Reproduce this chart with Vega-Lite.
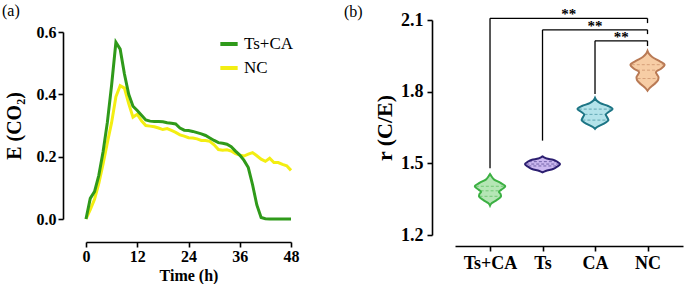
{
  "$schema": "https://vega.github.io/schema/vega-lite/v6.json",
  "autosize": {"type": "pad"},
  "padding": {"left": 2, "top": 3, "right": 2, "bottom": 1},
  "background": "white",
  "datasets": {
    "co2": [
      {"group": "NC", "t": 0, "v": 0}, {"group": "NC", "t": 1, "v": 0.03}, {"group": "NC", "t": 2, "v": 0.063},
      {"group": "NC", "t": 3, "v": 0.114}, {"group": "NC", "t": 4, "v": 0.177}, {"group": "NC", "t": 5, "v": 0.245},
      {"group": "NC", "t": 6, "v": 0.31}, {"group": "NC", "t": 7, "v": 0.392}, {"group": "NC", "t": 8, "v": 0.428},
      {"group": "NC", "t": 9, "v": 0.42}, {"group": "NC", "t": 10, "v": 0.37}, {"group": "NC", "t": 11, "v": 0.327},
      {"group": "NC", "t": 12, "v": 0.336}, {"group": "NC", "t": 13, "v": 0.315}, {"group": "NC", "t": 14, "v": 0.3},
      {"group": "NC", "t": 15, "v": 0.298}, {"group": "NC", "t": 16, "v": 0.296}, {"group": "NC", "t": 17, "v": 0.292},
      {"group": "NC", "t": 18, "v": 0.287}, {"group": "NC", "t": 19, "v": 0.29}, {"group": "NC", "t": 20, "v": 0.284},
      {"group": "NC", "t": 21, "v": 0.278}, {"group": "NC", "t": 22, "v": 0.27}, {"group": "NC", "t": 23, "v": 0.266},
      {"group": "NC", "t": 24, "v": 0.261}, {"group": "NC", "t": 25, "v": 0.26}, {"group": "NC", "t": 26, "v": 0.257},
      {"group": "NC", "t": 27, "v": 0.252}, {"group": "NC", "t": 28, "v": 0.252}, {"group": "NC", "t": 29, "v": 0.249},
      {"group": "NC", "t": 30, "v": 0.238}, {"group": "NC", "t": 31, "v": 0.223}, {"group": "NC", "t": 32, "v": 0.221},
      {"group": "NC", "t": 33, "v": 0.222}, {"group": "NC", "t": 34, "v": 0.218}, {"group": "NC", "t": 35, "v": 0.21},
      {"group": "NC", "t": 36, "v": 0.205}, {"group": "NC", "t": 37, "v": 0.202}, {"group": "NC", "t": 38, "v": 0.208},
      {"group": "NC", "t": 39, "v": 0.213}, {"group": "NC", "t": 40, "v": 0.203}, {"group": "NC", "t": 41, "v": 0.192},
      {"group": "NC", "t": 42, "v": 0.185}, {"group": "NC", "t": 43, "v": 0.195}, {"group": "NC", "t": 44, "v": 0.181},
      {"group": "NC", "t": 45, "v": 0.181}, {"group": "NC", "t": 46, "v": 0.175}, {"group": "NC", "t": 47, "v": 0.171},
      {"group": "NC", "t": 48, "v": 0.156},
      {"group": "Ts+CA", "t": 0, "v": 0}, {"group": "Ts+CA", "t": 1, "v": 0.066}, {"group": "Ts+CA", "t": 2, "v": 0.088},
      {"group": "Ts+CA", "t": 3, "v": 0.14}, {"group": "Ts+CA", "t": 4, "v": 0.216}, {"group": "Ts+CA", "t": 5, "v": 0.31},
      {"group": "Ts+CA", "t": 6, "v": 0.43}, {"group": "Ts+CA", "t": 7, "v": 0.567}, {"group": "Ts+CA", "t": 8, "v": 0.545},
      {"group": "Ts+CA", "t": 9, "v": 0.465}, {"group": "Ts+CA", "t": 10, "v": 0.4}, {"group": "Ts+CA", "t": 11, "v": 0.362},
      {"group": "Ts+CA", "t": 12, "v": 0.348}, {"group": "Ts+CA", "t": 13, "v": 0.333}, {"group": "Ts+CA", "t": 14, "v": 0.318},
      {"group": "Ts+CA", "t": 15, "v": 0.314}, {"group": "Ts+CA", "t": 16, "v": 0.313}, {"group": "Ts+CA", "t": 17, "v": 0.313},
      {"group": "Ts+CA", "t": 18, "v": 0.312}, {"group": "Ts+CA", "t": 19, "v": 0.309}, {"group": "Ts+CA", "t": 20, "v": 0.307},
      {"group": "Ts+CA", "t": 21, "v": 0.305}, {"group": "Ts+CA", "t": 22, "v": 0.292}, {"group": "Ts+CA", "t": 23, "v": 0.285},
      {"group": "Ts+CA", "t": 24, "v": 0.284}, {"group": "Ts+CA", "t": 25, "v": 0.281}, {"group": "Ts+CA", "t": 26, "v": 0.277},
      {"group": "Ts+CA", "t": 27, "v": 0.273}, {"group": "Ts+CA", "t": 28, "v": 0.268}, {"group": "Ts+CA", "t": 29, "v": 0.26},
      {"group": "Ts+CA", "t": 30, "v": 0.252}, {"group": "Ts+CA", "t": 31, "v": 0.245}, {"group": "Ts+CA", "t": 32, "v": 0.243},
      {"group": "Ts+CA", "t": 33, "v": 0.24}, {"group": "Ts+CA", "t": 34, "v": 0.232}, {"group": "Ts+CA", "t": 35, "v": 0.218},
      {"group": "Ts+CA", "t": 36, "v": 0.205}, {"group": "Ts+CA", "t": 37, "v": 0.188}, {"group": "Ts+CA", "t": 38, "v": 0.165},
      {"group": "Ts+CA", "t": 39, "v": 0.11}, {"group": "Ts+CA", "t": 40, "v": 0.045}, {"group": "Ts+CA", "t": 41, "v": 0.005},
      {"group": "Ts+CA", "t": 42, "v": 0.001}, {"group": "Ts+CA", "t": 43, "v": 0}, {"group": "Ts+CA", "t": 44, "v": 0},
      {"group": "Ts+CA", "t": 45, "v": 0}, {"group": "Ts+CA", "t": 46, "v": 0}, {"group": "Ts+CA", "t": 47, "v": 0},
      {"group": "Ts+CA", "t": 48, "v": 0}
    ],
    "violins": [
      {"group": "Ts+CA", "g": 1, "r": 1.323, "d": 0}, {"group": "Ts+CA", "g": 1, "r": 1.333, "d": 0.03},
      {"group": "Ts+CA", "g": 1, "r": 1.345, "d": 0.12}, {"group": "Ts+CA", "g": 1, "r": 1.362, "d": 0.21},
      {"group": "Ts+CA", "g": 1, "r": 1.372, "d": 0.2}, {"group": "Ts+CA", "g": 1, "r": 1.38, "d": 0.17},
      {"group": "Ts+CA", "g": 1, "r": 1.39, "d": 0.22}, {"group": "Ts+CA", "g": 1, "r": 1.404, "d": 0.29},
      {"group": "Ts+CA", "g": 1, "r": 1.418, "d": 0.2}, {"group": "Ts+CA", "g": 1, "r": 1.432, "d": 0.08},
      {"group": "Ts+CA", "g": 1, "r": 1.445, "d": 0.03}, {"group": "Ts+CA", "g": 1, "r": 1.455, "d": 0},
      {"group": "Ts", "g": 2, "r": 1.462, "d": 0}, {"group": "Ts", "g": 2, "r": 1.468, "d": 0.06},
      {"group": "Ts", "g": 2, "r": 1.476, "d": 0.2}, {"group": "Ts", "g": 2, "r": 1.485, "d": 0.27},
      {"group": "Ts", "g": 2, "r": 1.497, "d": 0.335}, {"group": "Ts", "g": 2, "r": 1.507, "d": 0.28},
      {"group": "Ts", "g": 2, "r": 1.515, "d": 0.2}, {"group": "Ts", "g": 2, "r": 1.52, "d": 0.08},
      {"group": "Ts", "g": 2, "r": 1.525, "d": 0.03}, {"group": "Ts", "g": 2, "r": 1.529, "d": 0},
      {"group": "CA", "g": 3, "r": 1.644, "d": 0}, {"group": "CA", "g": 3, "r": 1.652, "d": 0.04},
      {"group": "CA", "g": 3, "r": 1.664, "d": 0.15}, {"group": "CA", "g": 3, "r": 1.681, "d": 0.255},
      {"group": "CA", "g": 3, "r": 1.693, "d": 0.23}, {"group": "CA", "g": 3, "r": 1.704, "d": 0.205},
      {"group": "CA", "g": 3, "r": 1.715, "d": 0.26}, {"group": "CA", "g": 3, "r": 1.727, "d": 0.335},
      {"group": "CA", "g": 3, "r": 1.74, "d": 0.25}, {"group": "CA", "g": 3, "r": 1.752, "d": 0.1},
      {"group": "CA", "g": 3, "r": 1.763, "d": 0.03}, {"group": "CA", "g": 3, "r": 1.774, "d": 0},
      {"group": "NC", "g": 4, "r": 1.804, "d": 0}, {"group": "NC", "g": 4, "r": 1.815, "d": 0.04},
      {"group": "NC", "g": 4, "r": 1.83, "d": 0.12}, {"group": "NC", "g": 4, "r": 1.848, "d": 0.2},
      {"group": "NC", "g": 4, "r": 1.86, "d": 0.21}, {"group": "NC", "g": 4, "r": 1.872, "d": 0.18},
      {"group": "NC", "g": 4, "r": 1.881, "d": 0.16}, {"group": "NC", "g": 4, "r": 1.895, "d": 0.25},
      {"group": "NC", "g": 4, "r": 1.913, "d": 0.325}, {"group": "NC", "g": 4, "r": 1.928, "d": 0.23},
      {"group": "NC", "g": 4, "r": 1.945, "d": 0.09}, {"group": "NC", "g": 4, "r": 1.958, "d": 0.03},
      {"group": "NC", "g": 4, "r": 1.971, "d": 0}
    ],
    "quartiles": [
      {"group": "Ts+CA", "g": 1, "r": 1.362, "d": 0.2}, {"group": "Ts+CA", "g": 1, "r": 1.385, "d": 0.18}, {"group": "Ts+CA", "g": 1, "r": 1.404, "d": 0.27},
      {"group": "Ts", "g": 2, "r": 1.489, "d": 0.27}, {"group": "Ts", "g": 2, "r": 1.497, "d": 0.31}, {"group": "Ts", "g": 2, "r": 1.507, "d": 0.26},
      {"group": "CA", "g": 3, "r": 1.681, "d": 0.24}, {"group": "CA", "g": 3, "r": 1.705, "d": 0.2}, {"group": "CA", "g": 3, "r": 1.727, "d": 0.31},
      {"group": "NC", "g": 4, "r": 1.855, "d": 0.19}, {"group": "NC", "g": 4, "r": 1.89, "d": 0.2}, {"group": "NC", "g": 4, "r": 1.913, "d": 0.3}
    ],
    "brackets": [
      {"x": 1, "x2": 4, "y": 2.107, "y2": 2.107}, {"x": 1, "x2": 1, "y": 1.479, "y2": 2.107}, {"x": 4, "x2": 4, "y": 2.087, "y2": 2.107},
      {"x": 2, "x2": 4, "y": 2.059, "y2": 2.059}, {"x": 2, "x2": 2, "y": 1.595, "y2": 2.059}, {"x": 4, "x2": 4, "y": 2.041, "y2": 2.059},
      {"x": 3, "x2": 4, "y": 2.013, "y2": 2.013}, {"x": 3, "x2": 3, "y": 1.79, "y2": 2.013}, {"x": 4, "x2": 4, "y": 1.991, "y2": 2.013}
    ],
    "stars": [
      {"x": 2.5, "y": 2.107, "label": "**"}, {"x": 3.0, "y": 2.059, "label": "**"}, {"x": 3.5, "y": 2.013, "label": "**"}
    ]
  },
  "hconcat": [
    {
      "width": 205,
      "height": 215,
      "title": {"text": "(a)", "anchor": "start", "frame": "group", "dx": -84, "dy": -1, "fontSize": 16, "fontWeight": "normal", "font": "Liberation Serif", "color": "#000", "offset": 0},
      "data": {"name": "co2"},
      "mark": {"type": "line", "strokeWidth": 3, "clip": false},
      "encoding": {
        "x": {"field": "t", "type": "quantitative", "scale": {"domain": [0, 48], "nice": false},
          "axis": {"values": [0, 12, 24, 36, 48], "title": "Time (h)", "offset": 7, "labelFontSize": 16, "titleFontSize": 16, "labelPadding": 1, "titlePadding": 3, "labelFlush": false, "labelAngle": 0}},
        "y": {"field": "v", "type": "quantitative", "scale": {"domain": [0, 0.6], "nice": false, "range": [199, 12]},
          "axis": {"values": [0, 0.2, 0.4, 0.6], "format": ".1f", "title": "E (CO₂)", "offset": 23, "labelFontSize": 16, "titleFontSize": 20, "labelPadding": 2, "titlePadding": 12, "labelFlush": false}},
        "color": {"field": "group", "type": "nominal", "scale": {"domain": ["Ts+CA", "NC"], "range": ["#2f9a1a", "#f3ee12"]},
          "legend": {"orient": "none", "legendX": 132, "legendY": 13, "title": null, "symbolType": "stroke", "symbolSize": 300, "symbolStrokeWidth": 4, "labelFontSize": 17, "labelFont": "Liberation Serif", "labelFontWeight": "normal", "labelColor": "#000", "rowPadding": 5, "labelOffset": 4, "padding": 0}}
      }
    },
    {
      "width": 228,
      "height": 215,
      "title": {"text": "(b)", "anchor": "start", "frame": "group", "dx": -111, "dy": 13, "fontSize": 16, "fontWeight": "normal", "font": "Liberation Serif", "color": "#000", "offset": 0},
      "layer": [
        {
          "data": {"name": "violins"},
          "transform": [{"calculate": "datum.g - datum.d", "as": "lo"}, {"calculate": "datum.g + datum.d", "as": "hi"}],
          "mark": {"type": "area", "orient": "horizontal", "interpolate": "monotone", "strokeWidth": 2, "fillOpacity": 1, "clip": false},
          "encoding": {
            "y": {"field": "r", "type": "quantitative", "scale": {"domain": [1.2, 2.1], "nice": false},
              "axis": {"values": [1.2, 1.5, 1.8, 2.1], "format": ".1f", "title": "r (C/E)", "offset": 23, "labelFontSize": 18, "titleFontSize": 22, "labelPadding": 4, "titlePadding": 4, "labelFlush": false}},
            "x": {"field": "lo", "type": "quantitative", "scale": {"domain": [0.333, 4.676], "nice": false},
              "axis": {"values": [1, 2, 3, 4], "labelExpr": "datum.value == 1 ? 'Ts+CA' : datum.value == 2 ? 'Ts' : datum.value == 3 ? 'CA' : 'NC'", "title": null, "offset": 11, "labelFontSize": 18, "labelPadding": 3, "labelFlush": false, "labelAngle": 0}},
            "x2": {"field": "hi"},
            "fill": {"field": "group", "type": "nominal", "scale": {"domain": ["Ts+CA", "Ts", "CA", "NC"], "range": ["#b5e6b5", "#cbb8f0", "#b3e3ea", "#f7cda5"]}, "legend": null},
            "stroke": {"field": "group", "type": "nominal", "scale": {"domain": ["Ts+CA", "Ts", "CA", "NC"], "range": ["#3cb043", "#2c1f70", "#1d7585", "#b97a55"]}, "legend": null}
          }
        },
        {
          "data": {"name": "quartiles"},
          "transform": [{"calculate": "datum.g - datum.d", "as": "lo"}, {"calculate": "datum.g + datum.d", "as": "hi"}],
          "mark": {"type": "rule", "strokeWidth": 1, "strokeDash": [3, 2], "opacity": 0.55},
          "encoding": {
            "y": {"field": "r", "type": "quantitative", "title": "r (C/E)"},
            "x": {"field": "lo", "type": "quantitative", "title": null},
            "x2": {"field": "hi"},
            "stroke": {"field": "group", "type": "nominal", "legend": null}
          }
        },
        {
          "data": {"name": "brackets"},
          "mark": {"type": "rule", "color": "#000", "strokeWidth": 1.3, "clip": false},
          "encoding": {
            "x": {"field": "x", "type": "quantitative", "title": null},
            "x2": {"field": "x2"},
            "y": {"field": "y", "type": "quantitative", "title": "r (C/E)"},
            "y2": {"field": "y2"}
          }
        },
        {
          "data": {"name": "stars"},
          "mark": {"type": "text", "font": "Liberation Serif", "fontWeight": "bold", "fontSize": 15, "baseline": "alphabetic", "dy": 1, "color": "#000", "clip": false},
          "encoding": {
            "x": {"field": "x", "type": "quantitative", "title": null},
            "y": {"field": "y", "type": "quantitative", "title": "r (C/E)"},
            "text": {"field": "label"}
          }
        }
      ]
    }
  ],
  "spacing": 164,
  "bounds": "flush",
  "config": {
    "view": {"stroke": null},
    "font": "Liberation Serif",
    "axis": {"domainColor": "#000", "domainWidth": 1.6, "tickColor": "#000", "tickWidth": 1.6, "tickSize": 5, "labelColor": "#000", "labelFont": "Liberation Serif", "labelFontWeight": "bold", "titleFont": "Liberation Serif", "titleFontWeight": "bold", "titleColor": "#000", "grid": false}
  }
}
